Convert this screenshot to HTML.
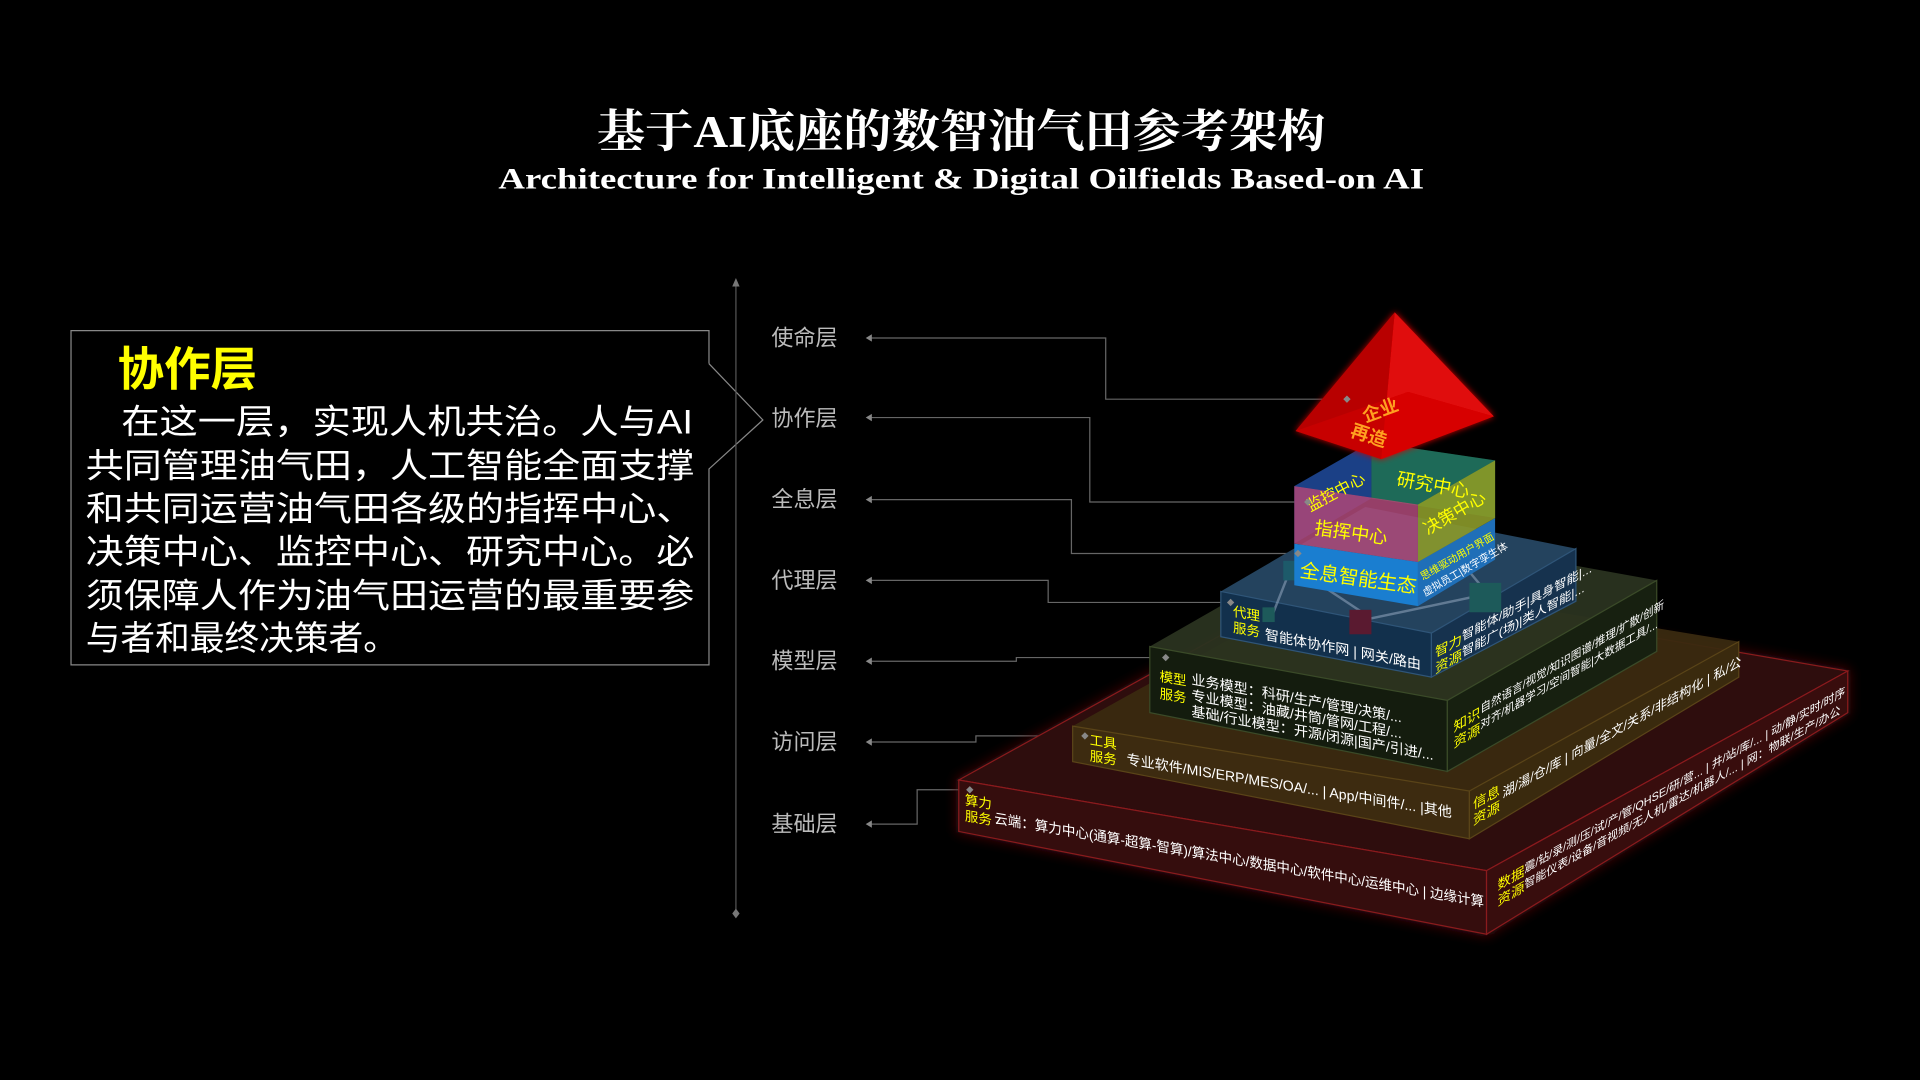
<!DOCTYPE html>
<html><head><meta charset="utf-8"><style>
html,body{margin:0;padding:0;background:#000;width:1920px;height:1080px;overflow:hidden}
svg{display:block}
.cn{font-family:"Liberation Sans","Noto Sans CJK SC",sans-serif}
</style></head><body>
<svg width="1920" height="1080" viewBox="0 0 1568 882" xmlns="http://www.w3.org/2000/svg">
<defs>
<filter id="glow" x="-20%" y="-20%" width="140%" height="140%"><feGaussianBlur stdDeviation="5" result="b"/><feMerge><feMergeNode in="b"/><feMergeNode in="SourceGraphic"/></feMerge></filter>
<filter id="glow2" x="-20%" y="-20%" width="140%" height="140%"><feGaussianBlur stdDeviation="2.5" result="b"/><feMerge><feMergeNode in="b"/><feMergeNode in="SourceGraphic"/></feMerge></filter>
</defs>
<rect width="1568" height="882" fill="#000"/>
<text x="785" y="120" text-anchor="middle" font-family="Liberation Serif,'Noto Serif CJK SC',serif" font-weight="bold" font-size="37" fill="#fff" textLength="595" lengthAdjust="spacingAndGlyphs">基于AI底座的数智油气田参考架构</text>
<text x="785" y="154" text-anchor="middle" font-family="Liberation Serif,'Noto Serif CJK SC',serif" font-weight="bold" font-size="24" fill="#fff" textLength="756" lengthAdjust="spacingAndGlyphs">Architecture for Intelligent &amp; Digital Oilfields Based-on AI</text>

<path d="M579 297 L579 270 L58 270 L58 543 L579 543 L579 383 L623 343 L579 297" fill="none" stroke="#888" stroke-width="1"/>
<g class="cn">
<text x="96" y="315" font-size="38" font-weight="bold" fill="#ffff00">协作层</text>
<g font-size="28" fill="#fff">
<text x="99" y="354" textLength="467" lengthAdjust="spacingAndGlyphs">在这一层，实现人机共治。人与AI</text>
<text x="70" y="390" textLength="497" lengthAdjust="spacingAndGlyphs">共同管理油气田，人工智能全面支撑</text>
<text x="70" y="425" textLength="497" lengthAdjust="spacingAndGlyphs">和共同运营油气田各级的指挥中心、</text>
<text x="70" y="460" textLength="497" lengthAdjust="spacingAndGlyphs">决策中心、监控中心、研究中心。必</text>
<text x="70" y="496" textLength="497" lengthAdjust="spacingAndGlyphs">须保障人作为油气田运营的最重要参</text>
<text x="70" y="531" textLength="255" lengthAdjust="spacingAndGlyphs">与者和最终决策者。</text>
</g>
</g>

<line x1="601" y1="230" x2="601" y2="746" stroke="#555" stroke-width="1"/>
<path d="M598 234 L601 227 L604 234Z" fill="#777"/>
<path d="M601 742 L604 746 L601 750 L598 746Z" fill="#777"/>

<g class="cn" font-size="18" fill="#bbb">
<text x="630" y="282">使命层</text>
<text x="630" y="348">协作层</text>
<text x="630" y="414">全息层</text>
<text x="630" y="480">代理层</text>
<text x="630" y="546">模型层</text>
<text x="630" y="612">访问层</text>
<text x="630" y="679">基础层</text>
</g>

<g fill="none" stroke="#666" stroke-width="1">
<polyline points="710,276 903,276 903,326 1100,326"/>
<polyline points="710,341 890,341 890,410 1068,410"/>
<polyline points="710,408 875,408 875,452 1060,452"/>
<polyline points="710,474 856,474 856,492 1005,492"/>
<polyline points="710,540 830,540 830,537 952,537"/>
<polyline points="710,606 797,606 797,601 886,601"/>
<polyline points="710,673 749,673 749,645 792,645"/>
</g>
<g fill="#888">
<path d="M707 276 l5 -3 v6z"/><path d="M707 341 l5 -3 v6z"/><path d="M707 408 l5 -3 v6z"/><path d="M707 474 l5 -3 v6z"/><path d="M707 540 l5 -3 v6z"/><path d="M707 606 l5 -3 v6z"/><path d="M707 673 l5 -3 v6z"/>
</g>

<g filter="url(#glow)">
<polygon points="783,637 1078,474 1509,548 1214,711" fill="#2e080c" stroke="#8a1a1e" stroke-width="1"/>
<polygon points="783,637 1214,711 1214,763 783,679" fill="#360810" stroke="#8a1a1e" stroke-width="1"/>
<polygon points="1214,711 1509,548 1509,582 1214,763" fill="#380a10" stroke="#8a1a1e" stroke-width="1"/>
</g>
<polygon points="876,593 1096,471 1420,524 1200,646" fill="#3a2a10" opacity="0.95"/>
<polygon points="876,593 1200,646 1200,685 876,622" fill="#3d2b10" stroke="#5a4418" stroke-width="1"/>
<polygon points="1200,646 1420,524 1420,553 1200,685" fill="#3a2a0e" stroke="#5a4418" stroke-width="1"/>
<polygon points="939,528 1110,430 1353,474 1182,572" fill="#2a3320" opacity="0.95"/>
<polygon points="939,528 1182,572 1182,630 939,582" fill="#141c0e" stroke="#3a4a28" stroke-width="1"/>
<polygon points="1182,572 1353,474 1353,532 1182,630" fill="#172010" stroke="#3a4a28" stroke-width="1"/>
<polygon points="997,483 1115,414 1287,448 1169,517" fill="#24435e"/>
<polygon points="997,483 1169,517 1169,553 997,520" fill="#12304c" stroke="#2f5578" stroke-width="1"/>
<polygon points="1169,517 1287,448 1287,491 1169,553" fill="#16324e" stroke="#2f5578" stroke-width="1"/>
<g stroke="#8aa0b8" stroke-width="2" opacity="0.6" fill="none">
<polyline points="1040,500 1055,462 1120,505 1215,485 1190,455"/>
<line x1="1055" y1="462" x2="1110" y2="470"/>
</g>
<rect x="1048" y="458" width="14" height="16" fill="#1d5a6a"/>
<rect x="1102" y="498" width="18" height="20" fill="#5a1a30"/>
<rect x="1200" y="476" width="26" height="24" fill="#1d5a5a"/>
<rect x="1031" y="496" width="10" height="12" fill="#1d5a5a"/>

<polygon points="1057,444 1158,459 1158,495 1057,478" fill="#1a7ed0"/>
<polygon points="1158,459 1221,423 1221,457 1158,495" fill="#1f6fb8"/>
<polygon points="1057,397 1120,361 1120,407 1057,444" fill="#132a70"/>
<polygon points="1120,361 1221,376 1221,423 1120,407" fill="#186a2a"/>
<polygon points="1057,397 1158,412 1158,459 1057,444" fill="#b04a7a" opacity="0.85"/>
<polygon points="1158,412 1221,376 1221,423 1158,459" fill="#8c9a2a" opacity="0.9"/>
<polygon points="1057,397 1120,361 1221,376 1158,412" fill="#2a6ab0" opacity="0.35"/>

<g filter="url(#glow2)">
<polygon points="1139,255 1058,352 1128,375" fill="#b80000"/>
<polygon points="1139,255 1128,375 1220,340" fill="#e00808"/>
<polygon points="1058,352 1128,375 1220,340 1150,320" fill="#d00000" opacity="0.6"/>
</g>
<g class="cn" font-weight="bold" fill="#ffa020" font-size="15">
<text transform="translate(1115,345) rotate(-20)">企业</text>
<text transform="translate(1102,356) rotate(18)">再造</text>
</g>

<g class="cn" fill="#ffff00">
<text transform="translate(1073,436) rotate(8)" font-size="15">指挥中心</text>
<text transform="translate(1140,396) rotate(10)" font-size="15">研究中心</text>
<text transform="translate(1070,418) rotate(-28)" font-size="13">监控中心</text>
<text transform="translate(1166,437) rotate(-30)" font-size="14">决策中心</text>
<text transform="translate(1061,471) rotate(8)" font-size="16">全息智能生态</text>
<text transform="translate(1162,474) rotate(-30)" font-size="8.5">思维驱动用户界面</text>
<text transform="translate(1164,487) rotate(-30)" font-size="8.5" fill="#fff">虚拟员工|数字孪生体</text>
</g>

<g class="cn" font-size="11">
<g transform="translate(1007,503) skewY(10.9)"><text fill="#ffff00">代理</text><text y="13" fill="#ffff00">服务</text><text x="26" y="14" fill="#fff" font-size="11.5">智能体协作网 | 网关/路由</text></g>
<g transform="translate(1172,537) skewY(-28)"><text fill="#ffff00">智力</text><text y="13" fill="#ffff00">资源</text><text x="22" y="-2" fill="#fff" font-size="10">智能体/助手|具身智能|...</text><text x="22" y="11" fill="#fff" font-size="10">智能广(场)|类人智能|...</text></g>
<g transform="translate(947,556) skewY(10.3)"><text fill="#ffff00">模型</text><text y="14" fill="#ffff00">服务</text><text x="26" y="-2" fill="#fff" font-size="11.5">业务模型：科研/生产/管理/决策/...</text><text x="26" y="11" fill="#fff" font-size="11.5">专业模型：油藏/井筒/管网/工程/...</text><text x="26" y="24" fill="#fff" font-size="11.5">基础/行业模型：开源/闭源|国产/引进/...</text></g>
<g transform="translate(1187,598) skewY(-29.8)"><text fill="#ffff00">知识</text><text y="13" fill="#ffff00">资源</text><text x="22" y="-3" fill="#fff" font-size="9.5" textLength="150" lengthAdjust="spacingAndGlyphs">自然语言/视觉/知识图谱/推理/扩散/创新</text><text x="22" y="10" fill="#fff" font-size="9.5" textLength="145" lengthAdjust="spacingAndGlyphs">对齐/机器学习/空间智能|大数据工具/...</text></g>
<g transform="translate(890,608) skewY(9.3)"><text fill="#ffff00">工具</text><text y="13" fill="#ffff00">服务</text><text x="30" y="11" fill="#fff" font-size="11.5">专业软件/MIS/ERP/MES/OA/... | App/中间件/... |其他</text></g>
<g transform="translate(1203,661) skewY(-29)"><text fill="#ffff00">信息</text><text y="13" fill="#ffff00">资源</text><text x="24" y="4" fill="#fff" textLength="195" lengthAdjust="spacingAndGlyphs">湖/湯/仓/库 | 向量/全文/关系/非结构化 | 私/公</text></g>
<g transform="translate(788,657) skewY(9.7)"><text fill="#ffff00">算力</text><text y="13" fill="#ffff00">服务</text><text x="24" y="11" fill="#fff" font-size="11.5" textLength="400" lengthAdjust="spacingAndGlyphs">云端：算力中心(通算-超算-智算)/算法中心/数据中心/软件中心/运维中心 | 边缘计算</text></g>
<g transform="translate(1223,727) skewY(-29)"><text fill="#ffff00">数据</text><text y="13" fill="#ffff00">资源</text><text x="22" y="-2" fill="#fff" font-size="9.5" textLength="262" lengthAdjust="spacingAndGlyphs">震/钻/录/测/压/试/产/管/QHSE/研/营... | 井/站/库/... | 动/静/实时/时序</text><text x="22" y="11" fill="#fff" font-size="9.5" textLength="258" lengthAdjust="spacingAndGlyphs">智能仪表/设备/音视频/无人机/雷达/机器人/... | 网：物联/生产/办公</text></g>
</g>

<g fill="#888">
<path d="M1100 323 l3 3 l-3 3 l-3 -3z"/><path d="M1068 407 l3 3 l-3 3 l-3 -3z"/><path d="M1060 449 l3 3 l-3 3 l-3 -3z"/><path d="M1005 489 l3 3 l-3 3 l-3 -3z"/><path d="M952 534 l3 3 l-3 3 l-3 -3z"/><path d="M886 598 l3 3 l-3 3 l-3 -3z"/><path d="M792 642 l3 3 l-3 3 l-3 -3z"/>
</g>
</svg>
</body></html>
